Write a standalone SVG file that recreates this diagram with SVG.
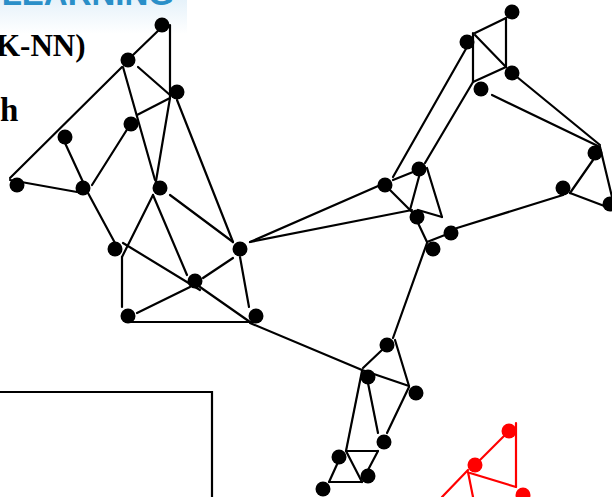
<svg xmlns="http://www.w3.org/2000/svg" width="612" height="497" viewBox="0 0 612 497">
<defs>
<style>
.e{stroke:#000;stroke-width:2.2;fill:none;stroke-linecap:round}
.r{stroke:#f00;stroke-width:2.2;fill:none;stroke-linecap:round}
.n{fill:#000}
.rn{fill:#f00}
.t{font-family:"Liberation Serif",serif;font-weight:bold;fill:#000}
</style>
<linearGradient id="bg" x1="0" y1="0" x2="0" y2="1">
<stop offset="0" stop-color="#e6f2fa"/>
<stop offset="1" stop-color="#ffffff"/>
</linearGradient>
</defs>
<rect width="612" height="497" fill="#fff"/>
<rect x="0" y="0" width="187" height="34" fill="url(#bg)"/>
<text x="174" y="5" text-anchor="end" font-family="Liberation Sans, sans-serif" font-weight="bold" font-size="33" fill="#2a8fc8">LEARNING</text>
<text class="t" x="-4" y="56" font-size="31">K-NN)</text>
<text class="t" x="0" y="121" font-size="33">h</text>
<path d="M0,392 H212 V497" stroke="#000" stroke-width="2.2" fill="none"/>
<g id="connectors">
<line class="e" x1="133" y1="55" x2="162" y2="27"/>
<line class="e" x1="170" y1="25" x2="170" y2="97"/>
<line class="e" x1="138" y1="67" x2="170" y2="95"/>
<line class="e" x1="122" y1="67" x2="10" y2="178"/>
<line class="e" x1="123" y1="67" x2="155" y2="180"/>
<line class="e" x1="170" y1="98" x2="137" y2="115"/>
<line class="e" x1="170" y1="98" x2="155" y2="187"/>
<line class="e" x1="177" y1="100" x2="233" y2="242"/>
<line class="e" x1="65" y1="143" x2="83" y2="182"/>
<line class="e" x1="10" y1="180" x2="77" y2="192"/>
<line class="e" x1="92" y1="185" x2="128" y2="128"/>
<line class="e" x1="88" y1="193" x2="115" y2="243"/>
<line class="e" x1="153" y1="195" x2="122" y2="257"/>
<line class="e" x1="122" y1="257" x2="122" y2="307"/>
<line class="e" x1="123" y1="243" x2="200" y2="290"/>
<line class="e" x1="200" y1="287" x2="250" y2="322"/>
<line class="e" x1="153" y1="195" x2="187" y2="275"/>
<line class="e" x1="170" y1="195" x2="233" y2="242"/>
<line class="e" x1="240" y1="257" x2="249" y2="307"/>
<line class="e" x1="233" y1="258" x2="203" y2="278"/>
<line class="e" x1="190" y1="287" x2="137" y2="313"/>
<line class="e" x1="128" y1="322" x2="253" y2="322"/>
<line class="e" x1="250" y1="323" x2="362" y2="370"/>
<line class="e" x1="250" y1="242" x2="385" y2="183"/>
<line class="e" x1="250" y1="242" x2="412" y2="210"/>
<line class="e" x1="475" y1="33" x2="506" y2="18"/>
<line class="e" x1="506" y1="18" x2="506" y2="67"/>
<line class="e" x1="475" y1="35" x2="506" y2="67"/>
<line class="e" x1="473" y1="33" x2="473" y2="82"/>
<line class="e" x1="473" y1="82" x2="506" y2="67"/>
<line class="e" x1="467" y1="47" x2="393" y2="177"/>
<line class="e" x1="473" y1="82" x2="425" y2="163"/>
<line class="e" x1="492" y1="95" x2="600" y2="147"/>
<line class="e" x1="517" y1="77" x2="600" y2="145"/>
<line class="e" x1="593" y1="160" x2="570" y2="193"/>
<line class="e" x1="600" y1="147" x2="612" y2="197"/>
<line class="e" x1="570" y1="193" x2="607" y2="207"/>
<line class="e" x1="563" y1="195" x2="457" y2="228"/>
<line class="e" x1="393" y1="180" x2="413" y2="172"/>
<line class="e" x1="390" y1="190" x2="412" y2="212"/>
<line class="e" x1="420" y1="173" x2="410" y2="210"/>
<line class="e" x1="427" y1="168" x2="442" y2="217"/>
<line class="e" x1="418" y1="210" x2="442" y2="217"/>
<line class="e" x1="418" y1="223" x2="427" y2="242"/>
<line class="e" x1="450" y1="233" x2="427" y2="242"/>
<line class="e" x1="427" y1="243" x2="393" y2="338"/>
<line class="e" x1="382" y1="350" x2="363" y2="368"/>
<line class="e" x1="395" y1="340" x2="409" y2="386"/>
<line class="e" x1="362" y1="370" x2="409" y2="386"/>
<line class="e" x1="409" y1="387" x2="387" y2="433"/>
<line class="e" x1="367" y1="378" x2="378" y2="433"/>
<line class="e" x1="362" y1="371" x2="346" y2="451"/>
<line class="e" x1="346" y1="451" x2="378" y2="451"/>
<line class="e" x1="346" y1="451" x2="362" y2="482"/>
<line class="e" x1="378" y1="451" x2="368" y2="470"/>
<line class="e" x1="339" y1="460" x2="329" y2="482"/>
<line class="e" x1="329" y1="482" x2="362" y2="482"/>
<line class="r" x1="480" y1="460" x2="507" y2="433"/>
<line class="r" x1="516" y1="423" x2="516" y2="487"/>
<line class="r" x1="470" y1="473" x2="516" y2="487"/>
<line class="r" x1="468" y1="470" x2="442" y2="497"/>
<line class="r" x1="468" y1="472" x2="473" y2="497"/>
</g>
<g id="nA"><circle class="n" cx="162" cy="25" r="7.5"/></g>
<g id="nB"><circle class="n" cx="128" cy="60" r="7.5"/></g>
<g id="nC"><circle class="n" cx="177" cy="92" r="7.5"/></g>
<g id="nD"><circle class="n" cx="131" cy="124" r="7.5"/></g>
<g id="nE"><circle class="n" cx="65" cy="137" r="7.5"/></g>
<g id="nF"><circle class="n" cx="17" cy="185" r="7.5"/></g>
<g id="nG"><circle class="n" cx="83" cy="188" r="7.5"/></g>
<g id="nH"><circle class="n" cx="160" cy="188" r="7.5"/></g>
<g id="nJ"><circle class="n" cx="115" cy="249" r="7.5"/></g>
<g id="nI"><circle class="n" cx="240" cy="249" r="7.5"/></g>
<g id="nK"><circle class="n" cx="195" cy="281" r="7.5"/></g>
<g id="nL"><circle class="n" cx="128" cy="316" r="7.5"/></g>
<g id="nM"><circle class="n" cx="256" cy="316" r="7.5"/></g>
<g id="nR"><circle class="n" cx="512" cy="12" r="7.5"/></g>
<g id="nS"><circle class="n" cx="467" cy="42" r="7.5"/></g>
<g id="nT"><circle class="n" cx="512" cy="73" r="7.5"/></g>
<g id="nU"><circle class="n" cx="481" cy="89" r="7.5"/></g>
<g id="nV"><circle class="n" cx="595" cy="153" r="7.5"/></g>
<g id="nW"><circle class="n" cx="563" cy="188" r="7.5"/></g>
<g id="nX"><circle class="n" cx="610" cy="204" r="7.5"/></g>
<g id="nO"><circle class="n" cx="385" cy="185" r="7.5"/></g>
<g id="nP"><circle class="n" cx="419" cy="169" r="7.5"/></g>
<g id="nQ"><circle class="n" cx="417" cy="217" r="7.5"/></g>
<g id="nY"><circle class="n" cx="451" cy="233" r="7.5"/></g>
<g id="nZ"><circle class="n" cx="433" cy="249" r="7.5"/></g>
<g id="nN"><circle class="n" cx="387" cy="345" r="7.5"/></g>
<g id="nAA"><circle class="n" cx="368" cy="377" r="7.5"/></g>
<g id="nAB"><circle class="n" cx="416" cy="393" r="7.5"/></g>
<g id="nAC"><circle class="n" cx="384" cy="442" r="7.5"/></g>
<g id="nAD"><circle class="n" cx="339" cy="457" r="7.5"/></g>
<g id="nAE"><circle class="n" cx="368" cy="476" r="7.5"/></g>
<g id="nAF"><circle class="n" cx="323" cy="489" r="7.5"/></g>
<g id="nRA"><circle class="rn" cx="509" cy="431" r="7.5"/></g>
<g id="nRB"><circle class="rn" cx="475" cy="465" r="7.5"/></g>
<g id="nRC"><circle class="rn" cx="523" cy="495" r="7.5"/></g>
</svg>
